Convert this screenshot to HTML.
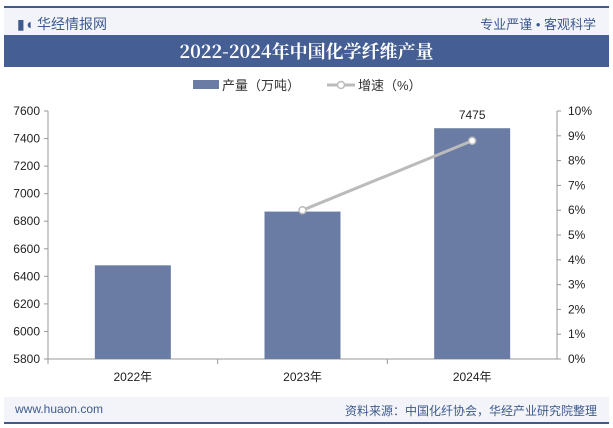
<!DOCTYPE html>
<html><head><meta charset="utf-8"><style>
body{margin:0;width:613px;height:428px;background:#fff;font-family:"Liberation Sans","Noto Sans CJK SC",sans-serif;position:relative;overflow:hidden}
.a{position:absolute}
</style></head><body>
<div class="a" style="left:4px;top:6px;width:605px;height:2px;background:#3e5a8e"></div>
<div class="a" style="left:4px;top:8px;width:605px;height:27px;background:#f2f4f9"></div>
<div class="a" style="left:17px;top:14px;font-size:14px;color:#3e5a8e">▮◖ 华经情报网</div>
<div class="a" style="right:17px;top:14px;font-size:13px;color:#3e5a8e">专业严谨 • 客观科学</div>
<div class="a" style="left:4px;top:35px;width:605px;height:32px;background:#455f95;color:#fff;font:bold 18px 'Noto Serif CJK SC','Liberation Serif',serif;text-align:center;line-height:32px">2022-2024年中国化学纤维产量</div>
<div class="a" style="left:4px;top:397px;width:605px;height:25px;background:#f2f4f9"></div>
<div class="a" style="left:15px;top:402px;font-size:12px;color:#3e5a8e">www.huaon.com</div>
<div class="a" style="right:16px;top:402px;font-size:12px;color:#3e5a8e">资料来源：中国化纤协会，华经产业研究院整理</div>
<div class="a" style="left:4px;top:422px;width:605px;height:2px;background:#3e5a8e"></div>
<svg class="a" style="left:0;top:0" width="613" height="428" id="c"></svg>
<script>
const categories=["2022年","2023年","2024年"];
const output=[6480,6870,7475];
const growth=[null,6.0,8.8];
const leftTicks=[5800,6000,6200,6400,6600,6800,7000,7200,7400,7600];
const rightTicks=[0,1,2,3,4,5,6,7,8,9,10];
const X0=48,X1=557,Y0=359,Y1=111;
const yL=v=>Y0-(v-5800)/(7600-5800)*(Y0-Y1);
const yR=v=>Y0-v/10*(Y0-Y1);
const cw=(X1-X0)/categories.length;
const xc=i=>X0+cw*(i+0.5);
const s=document.getElementById('c');const NS='http://www.w3.org/2000/svg';
function mk(t,a,txt){const e=document.createElementNS(NS,t);for(const k in a)e.setAttribute(k,a[k]);if(txt!=null)e.textContent=txt;s.appendChild(e);return e;}
let e;
e=mk('rect',{x:193,y:80,width:26,height:9,fill:'#6a7ca3'});
e=mk('text',{x:222,y:90,'font-size':13,fill:'#333'},'产量（万吨）');
e=mk('line',{x1:327,y1:85,x2:355,y2:85,stroke:'#bbb','stroke-width':3});
e=mk('circle',{cx:341,cy:85,r:3.5,fill:'#fff',stroke:'#bbb','stroke-width':1.5});
e=mk('text',{x:358,y:90,'font-size':13,fill:'#333'},'增速（%）');
leftTicks.forEach(v=>{e=mk('text',{x:40,y:yL(v)+4,'font-size':12,fill:'#222','text-anchor':'end'},v);
 e=mk('line',{x1:X0-4,y1:yL(v),x2:X0,y2:yL(v),stroke:'#999'});});
rightTicks.forEach(v=>{e=mk('text',{x:568,y:yR(v)+4,'font-size':12,fill:'#222'},v+'%');
 e=mk('line',{x1:X1,y1:yR(v),x2:X1+4,y2:yR(v),stroke:'#999'});});
e=mk('line',{x1:X0,y1:Y1,x2:X0,y2:Y0,stroke:'#999'});
e=mk('line',{x1:X1,y1:Y1,x2:X1,y2:Y0,stroke:'#999'});
e=mk('line',{x1:X0,y1:Y0,x2:X1,y2:Y0,stroke:'#999'});
categories.forEach((c,i)=>{
 e=mk('line',{x1:X0+cw*i,y1:Y0,x2:X0+cw*i,y2:Y0+5,stroke:'#999'});
 e=mk('rect',{x:xc(i)-38,y:yL(output[i]),width:76,height:Y0-yL(output[i]),fill:'#6a7ca3'});
 e=mk('text',{x:xc(i),y:Y0+22,'font-size':12,fill:'#222','text-anchor':'middle'},c);
});
e=mk('text',{x:xc(2),y:yL(output[2])-9,'font-size':12,fill:'#222','text-anchor':'middle'},output[2]);
const pts=growth.map((g,i)=>g==null?null:[xc(i),yR(g)]).filter(p=>p);
e=mk('polyline',{points:pts.map(p=>p.join(',')).join(' '),fill:'none',stroke:'#bbb','stroke-width':3});
pts.forEach(p=>{e=mk('circle',{cx:p[0],cy:p[1],r:3.5,fill:'#fff',stroke:'#bbb','stroke-width':1.5});});
</script>
</body></html>
